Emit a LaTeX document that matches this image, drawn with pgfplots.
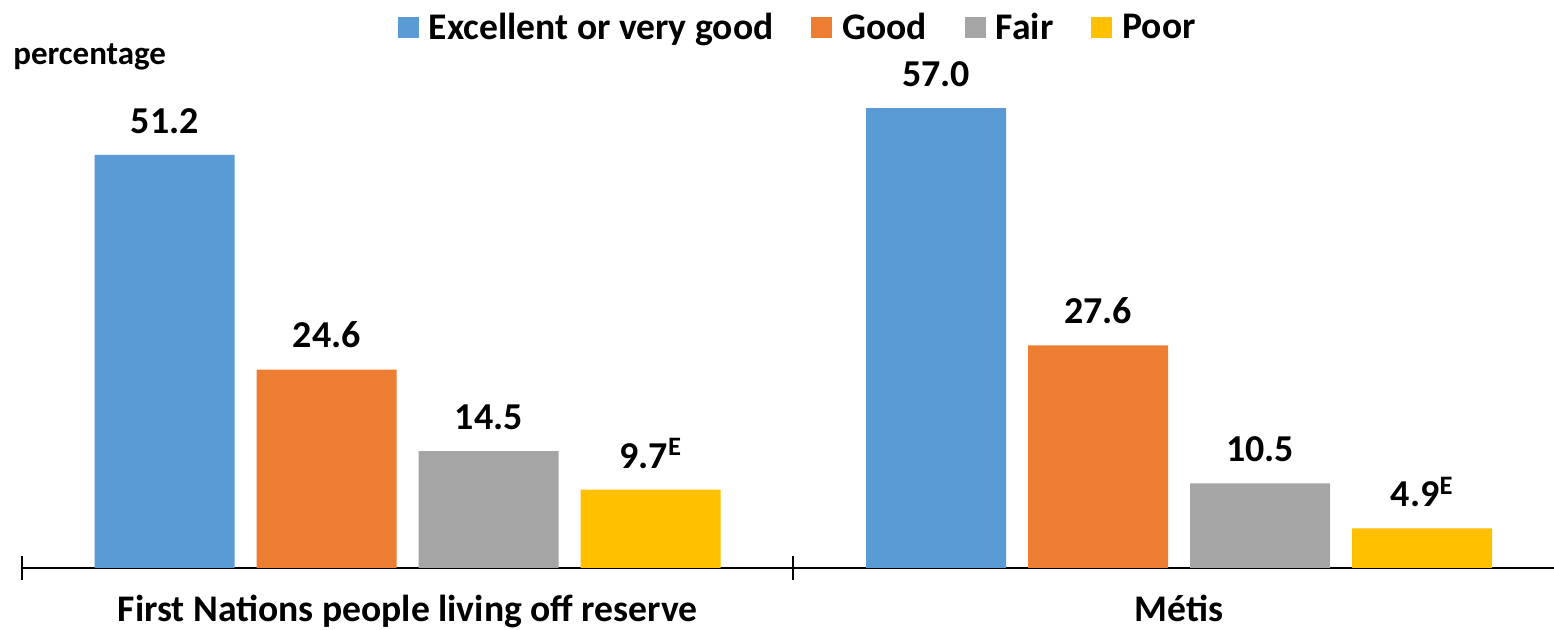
\documentclass[border=0pt]{standalone}
\usepackage{pgfplots}
\pgfplotsset{compat=1.18}
\usepackage{fontspec}
\setmainfont{Carlito}
\definecolor{cblue}{HTML}{5B9BD5}
\definecolor{corange}{HTML}{ED7D31}
\definecolor{cgray}{HTML}{A5A5A5}
\definecolor{cyellow}{HTML}{FFC000}
\newcommand{\lf}{\bfseries\fontsize{18.8}{21}\selectfont}
\newcommand{\nf}{\bfseries\fontsize{19}{21}\selectfont}
\begin{document}
\begin{tikzpicture}
\begin{axis}[
  scale only axis, width=766pt, height=242pt,
  xmin=-0.5, xmax=1.4858, ymin=0, ymax=60,
  axis x line=bottom, axis y line=none,
  x axis line style={-, line width=1.2pt, black},
  xtick={0,1},
  xticklabels={First Nations people living off reserve, Métis},
  major tick length=0pt,
  extra x ticks={-0.5,0.5}, extra x tick labels={},
  extra x tick style={major tick length=12pt, tick align=center},
  tick style={line width=1pt, black},
  xticklabel style={font=\lf, anchor=base, yshift=-27pt},
  ybar, bar width=70pt,
  nodes near coords, point meta=explicit symbolic,
  nodes near coords style={font=\nf, anchor=south, inner sep=0pt, yshift=10.5pt, black},
  clip=false,
  legend columns=4,
  legend style={draw=none, fill=none, font=\lf, at={(rel axis cs:0.507,1.116)}, anchor=center,
    /tikz/every odd column/.append style={column sep=3pt},
    /tikz/every even column/.append style={column sep=17pt}},
  myleg/.style={legend image code/.code={\fill[##1] (0pt,-5.25pt) rectangle (10.5pt,5.25pt);}},
]
\addplot[fill=cblue, draw=none, bar shift=-121.5pt, myleg] coordinates {(0,51.2) [51.2] (1,57.0) [57.0]};
\addlegendentry{Excellent or very good}
\addplot[fill=corange, draw=none, bar shift=-40.5pt, myleg] coordinates {(0,24.6) [24.6] (1,27.6) [27.6]};
\addlegendentry{Good}
\addplot[fill=cgray, draw=none, bar shift=40.5pt, myleg] coordinates {(0,14.5) [14.5] (1,10.5) [10.5]};
\addlegendentry{Fair}
\addplot[fill=cyellow, draw=none, bar shift=121.5pt, myleg] coordinates {(0,9.7) [9.7\textsuperscript{E}] (1,4.9) [4.9\textsuperscript{E}]};
\addlegendentry{Poor}
\node[anchor=base west, font=\bfseries\fontsize{16.5}{18}\selectfont, inner sep=0pt] at (rel axis cs:-0.0059,1.041) {percentage};
\coordinate (BL) at (rel axis cs:-0.01436,-0.1281);
\coordinate (TR) at (rel axis cs:1,1.1736);
\end{axis}
\pgfresetboundingbox
\path (BL) rectangle (TR);
\end{tikzpicture}
\end{document}
